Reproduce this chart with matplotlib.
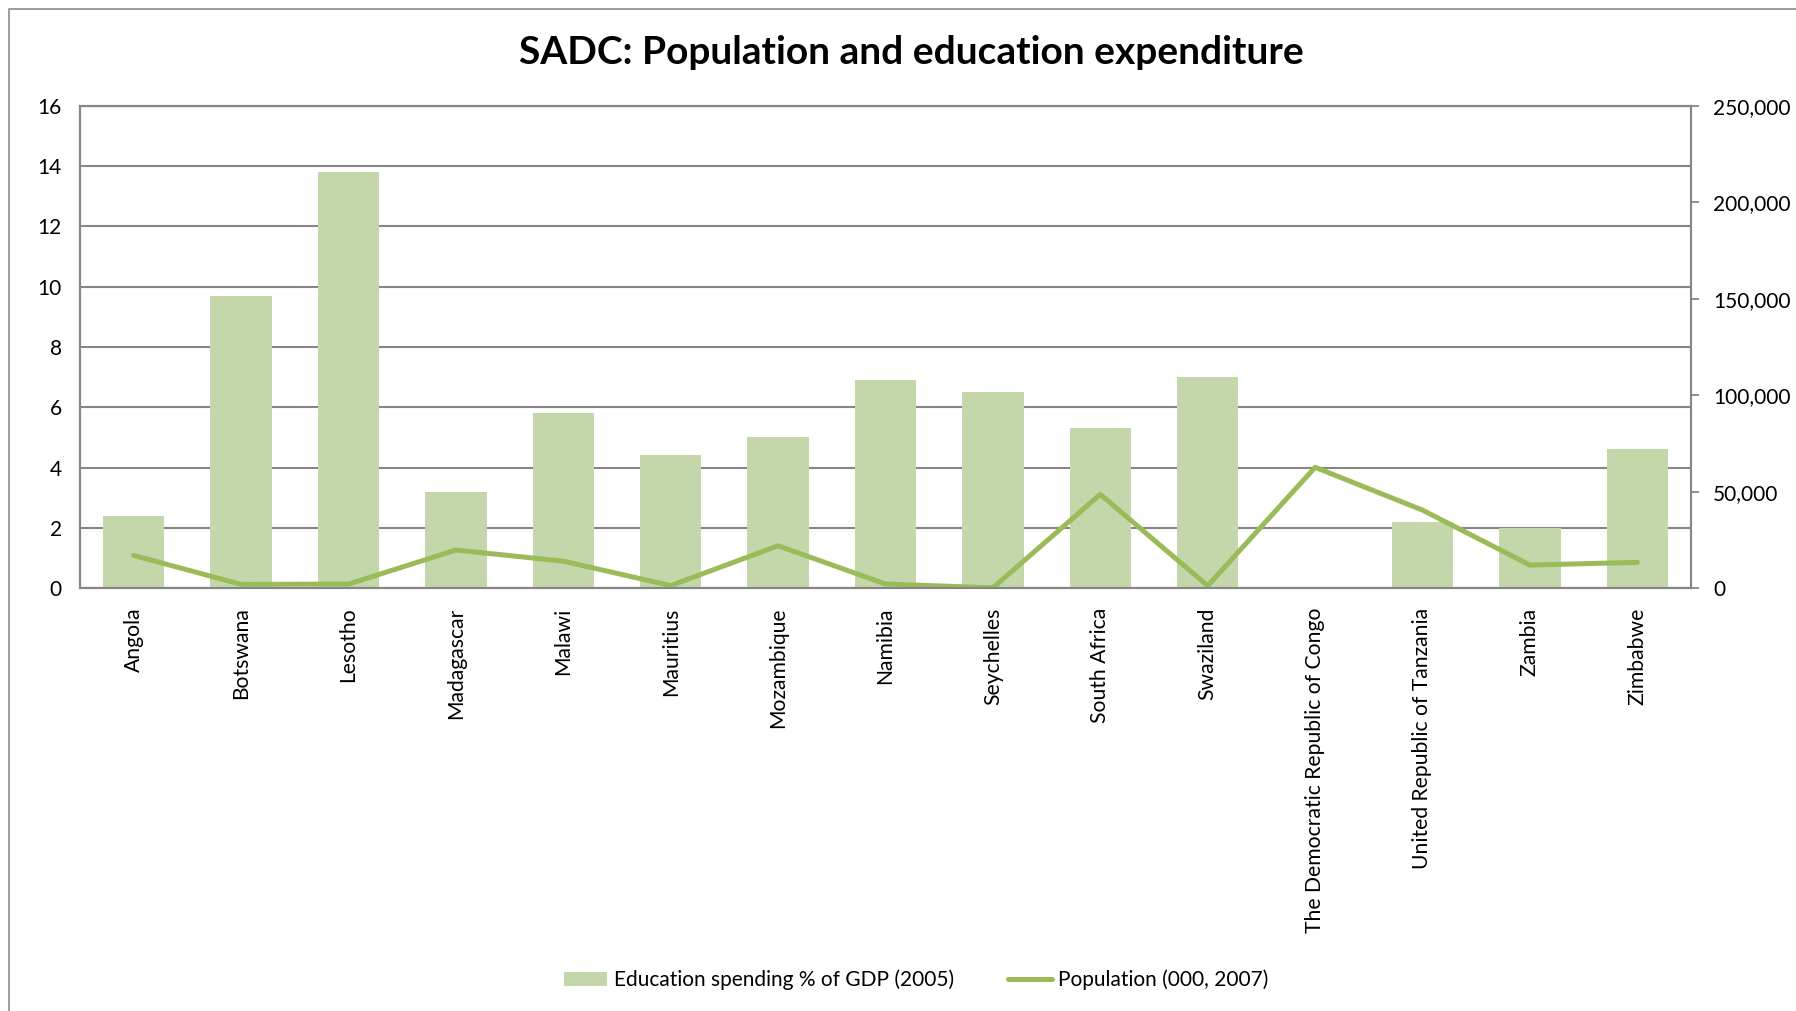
import matplotlib
matplotlib.use("Agg")
import matplotlib.pyplot as plt
import numpy as np
from matplotlib.lines import Line2D

plt.rcParams["font.family"] = ["Lato", "DejaVu Sans"]

# Datos
countries = ["Angola", "Botswana", "Lesotho", "Madagascar", "Malawi", "Mauritius",
             "Mozambique", "Namibia", "Seychelles", "South Africa", "Swaziland",
             "The Democratic Republic of Congo", "United Republic of Tanzania",
             "Zambia", "Zimbabwe"]
edu_spending = [2.4, 9.7, 13.8, 3.2, 5.8, 4.4, 5.0, 6.9, 6.5, 5.3, 7.0,
                np.nan, 2.2, 2.0, 4.6]
population = [16900, 1880, 2010, 19700, 13900, 1260, 21900, 2070, 87, 48600,
              1140, 62600, 40400, 11900, 13300]
left_ticks = [0, 2, 4, 6, 8, 10, 12, 14, 16]
right_ticks = [0, 50000, 100000, 150000, 200000, 250000]

bar_color = "#C4D7AB"
line_color = "#9BBB59"
grid_color = "#868686"

W, H = 1796, 1011
fig = plt.figure(figsize=(W / 100, H / 100), dpi=100)
ax = fig.add_axes([80 / W, 1 - 588 / H, (1691 - 80) / W, (588 - 106) / H])

x = np.arange(len(countries))
ax.bar(x, edu_spending, width=0.57, color=bar_color, zorder=2,
       label="Education spending % of GDP (2005)")
ax.set_xlim(-0.5, len(countries) - 0.5)
ax.set_ylim(0, 16)
ax.set_yticks(left_ticks)
ax.yaxis.grid(True, color=grid_color, linewidth=1.5, zorder=0)
ax.set_axisbelow(True)
ax.set_xticks(x)
ax.set_xticklabels(countries, rotation=90, fontsize=15.2)
ax.tick_params(axis="x", length=0, pad=14)
ax.tick_params(axis="y", length=0, pad=13, labelsize=15)

ax2 = ax.twinx()
ax2.plot(x, population, color=line_color, linewidth=3.6,
         solid_capstyle="round", solid_joinstyle="round",
         label="Population (000, 2007)")
ax2.set_ylim(0, 250000)
ax2.set_yticks(right_ticks)
ax2.set_yticklabels([f"{v:,}" for v in right_ticks])
ax2.tick_params(axis="y", length=6, width=1.3, color=grid_color, pad=10, labelsize=15)

for a in (ax, ax2):
    for s in a.spines.values():
        s.set_color(grid_color)
        s.set_linewidth(1.5)

fig.text(911 / W, 1 - 53 / H, "SADC: Population and education expenditure",
         ha="center", va="center", fontsize=28, fontweight="bold")

# Marco exterior
fig.add_artist(Line2D([9 / W, 9 / W, 1], [0, 1 - 9 / H, 1 - 9 / H],
                      transform=fig.transFigure, color="#8C8C8C", linewidth=1.2))

h1, l1 = ax.get_legend_handles_labels()
h2, l2 = ax2.get_legend_handles_labels()
fig.legend(h1 + h2, l1 + l2, loc="center", bbox_to_anchor=(916 / W, 1 - 980 / H),
           ncol=2, frameon=False, fontsize=15, handlelength=2.1,
           handletextpad=0.3, columnspacing=2.6)

plt.savefig("out.png", dpi=100)
plt.close()
